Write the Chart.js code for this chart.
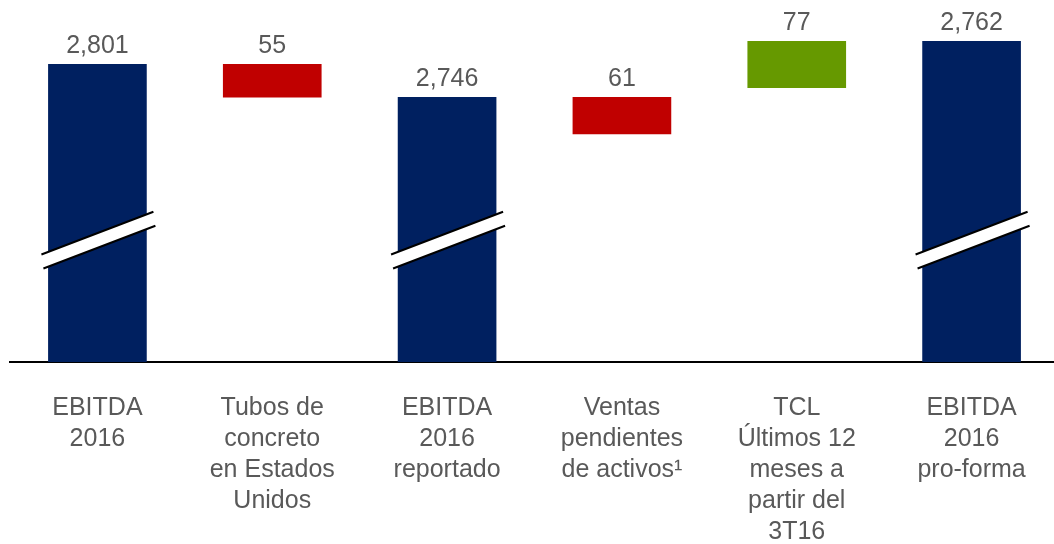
<!DOCTYPE html>
<html>
<head>
<meta charset="utf-8">
<script src="https://cdn.jsdelivr.net/npm/chart.js@4"></script>
<style>
  html, body { margin: 0; padding: 0; background: #fff; overflow: hidden; }
  #wrap { width: 1059px; height: 544px; position: relative; }
</style>
</head>
<body>
<div id="wrap"><canvas id="chart"></canvas></div>
<script>
// --- data ---
const categories = [
  ["EBITDA", "2016"],
  ["Tubos de", "concreto", "en Estados", "Unidos"],
  ["EBITDA", "2016", "reportado"],
  ["Ventas", "pendientes", "de activos¹"],
  ["TCL", "Últimos 12", "meses a", "partir del", "3T16"],
  ["EBITDA", "2016", "pro-forma"]
];
const valueLabels = ["2,801", "55", "2,746", "61", "77", "2,762"];
// bar extents as drawn in the picture (broken axis, so totals start at the axis floor)
const Y_MIN = 2305;
const Y_MAX = 2908;
const barLow  = [Y_MIN, 2746, Y_MIN, 2685, 2762, Y_MIN];
const barHigh = [2801, 2801, 2746, 2746, 2839, 2839];
const barColors = ["#002060", "#C00000", "#002060", "#C00000", "#669900", "#002060"];
const breakBars = [0, 2, 5];
const breakValue = 2508;

const FONT = "'Liberation Sans', Arial, sans-serif";
const TEXT = "#595959";

// etiquetas de valor encima de cada barra
const valueLabelPlugin = {
  id: "valueLabels",
  afterDatasetsDraw(chart) {
    const ctx = chart.ctx;
    const meta = chart.getDatasetMeta(0);
    ctx.save();
    ctx.font = "25px " + FONT;
    ctx.fillStyle = TEXT;
    ctx.textAlign = "center";
    ctx.textBaseline = "alphabetic";
    meta.data.forEach((el, i) => {
      const top = Math.min(el.y, el.base);
      ctx.fillText(valueLabels[i], el.x, top - 11);
    });
    ctx.restore();
  }
};

// marcas de corte del eje en las barras de total
const breakPlugin = {
  id: "axisBreaks",
  afterDatasetsDraw(chart) {
    const ctx = chart.ctx;
    const meta = chart.getDatasetMeta(0);
    const cy = chart.scales.y.getPixelForValue(breakValue);
    ctx.save();
    breakBars.forEach(i => {
      const el = meta.data[i];
      const half = el.width / 2 + 7;
      const dy = half * 0.382;
      const gap = 7;
      const x1 = el.x - half, x2 = el.x + half;
      ctx.fillStyle = "#fff";
      ctx.beginPath();
      ctx.moveTo(x1, cy - gap + dy);
      ctx.lineTo(x2, cy - gap - dy);
      ctx.lineTo(x2 + 2, cy + gap - dy);
      ctx.lineTo(x1 + 2, cy + gap + dy);
      ctx.closePath();
      ctx.fill();
      ctx.strokeStyle = "#000";
      ctx.lineWidth = 2;
      ctx.beginPath();
      ctx.moveTo(x1, cy - gap + dy);
      ctx.lineTo(x2, cy - gap - dy);
      ctx.moveTo(x1 + 2, cy + gap + dy);
      ctx.lineTo(x2 + 2, cy + gap - dy);
      ctx.stroke();
    });
    ctx.restore();
  }
};

new Chart(document.getElementById("chart"), {
  type: "bar",
  data: {
    labels: categories,
    datasets: [{
      data: barLow.map((lo, i) => [lo, barHigh[i]]),
      backgroundColor: barColors,
      borderWidth: 0,
      barThickness: 98
    }]
  },
  options: {
    responsive: true,
    maintainAspectRatio: false,
    animation: false,
    layout: { padding: { left: 10, right: 0, top: 0, bottom: 0 } },
    plugins: {
      legend: { display: false },
      tooltip: { enabled: false }
    },
    scales: {
      x: {
        grid: { display: false, drawTicks: false },
        border: { display: true, color: "#000", width: 2 },
        ticks: {
          color: TEXT,
          font: { family: FONT, size: 25, lineHeight: 1.24 },
          padding: 31,
          maxRotation: 0,
          autoSkip: false
        },
        afterFit(axis) { axis.height = 182; }
      },
      y: {
        display: false,
        min: Y_MIN,
        max: Y_MAX
      }
    }
  },
  plugins: [valueLabelPlugin, breakPlugin]
});
</script>
</body>
</html>
